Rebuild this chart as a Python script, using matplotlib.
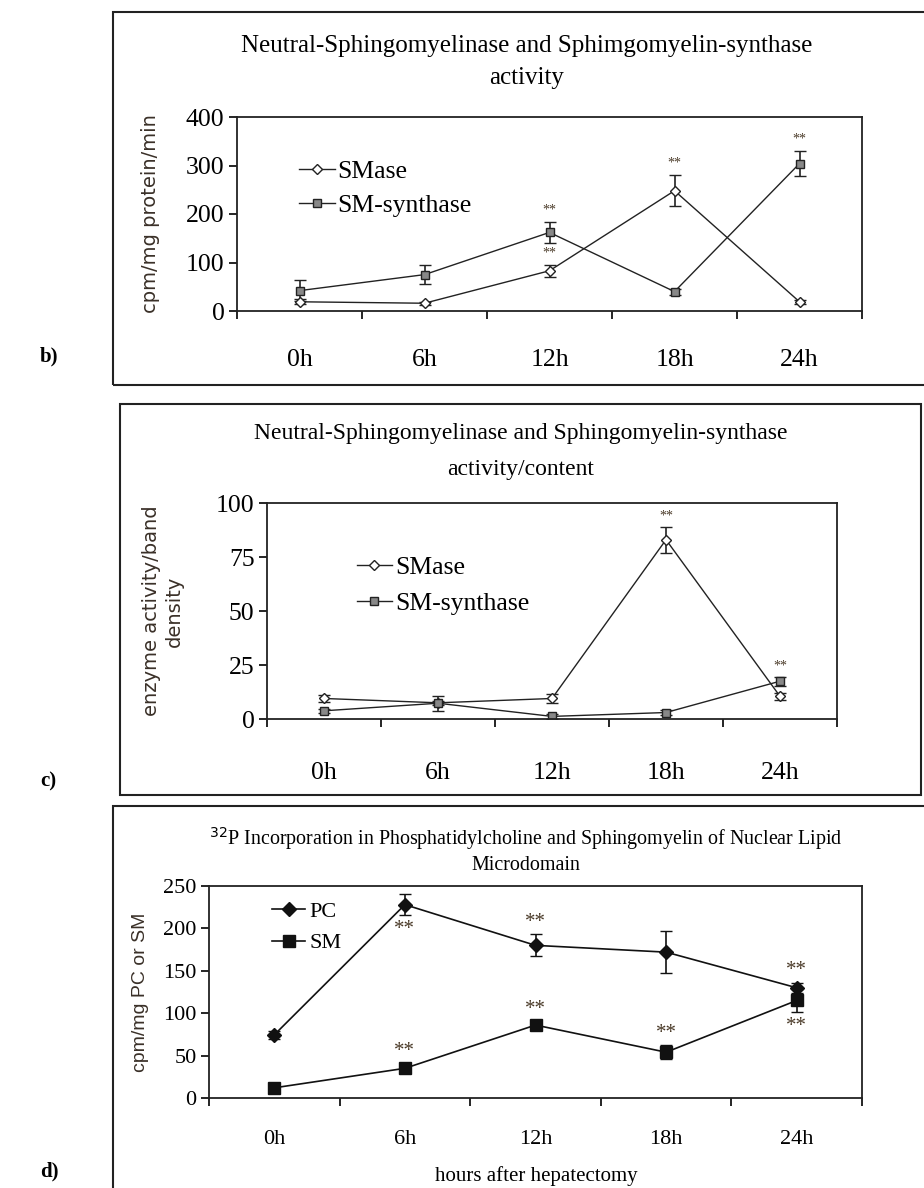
import matplotlib
matplotlib.use("Agg")
import matplotlib.pyplot as plt
from matplotlib.patches import Rectangle
from matplotlib.lines import Line2D
import numpy as np

W, H = 924, 1188
hours = ["0h", "6h", "12h", "18h", "24h"]

# panel b - activity
smase_b = [19, 16, 83, 248, 19]
smase_b_err = [5, 3, 12, 32, 4]
synth_b = [42, 75, 162, 40, 304]
synth_b_err = [22, 20, 22, 6, 25]
stars_b = [("synth", 2), ("smase", 2), ("smase", 3), ("synth", 4)]

# panel c - activity/content
smase_c = [9.5, 7.5, 9.5, 83, 10.5]
smase_c_err = [1.5, 1.0, 2.0, 6.0, 1.5]
synth_c = [3.8, 7.3, 1.2, 3.0, 17.5]
synth_c_err = [1.0, 3.5, 1.0, 1.0, 2.0]
stars_c = [("smase", 3), ("synth", 4)]

# panel d - 32P incorporation
pc_d = [74.5, 228, 180, 172, 130]
pc_d_err = [5, 12, 13, 25, 6]
sm_d = [12, 35, 86, 54, 115]
sm_d_err = [2, 5, 4, 8, 13]
stars_d = [("pc", 1, "below"), ("pc", 2, "above"), ("pc", 4, "above"),
           ("sm", 1, "above"), ("sm", 2, "above"), ("sm", 3, "above"), ("sm", 4, "below")]

serif = "Liberation Serif"
star_col = "#4a3a28"


def rect(l, t, r, b):
    return [l / W, 1 - b / H, (r - l) / W, (b - t) / H]


fig = plt.figure(figsize=(W / 100, H / 100), dpi=100)

# outer frames
for (l, t, r, b) in [(113, 12, 940, 385), (120, 404, 921, 795), (113, 806, 940, 1200)]:
    fig.add_artist(Rectangle((l / W, 1 - b / H), (r - l) / W, (b - t) / H,
                             transform=fig.transFigure, fill=False, lw=1.5, ec="#222"))

for lab, y in [("b)", 356), ("c)", 781), ("d)", 1171)]:
    fig.text(40 / W, 1 - y / H, lab, fontfamily=serif, fontsize=15, fontweight="bold",
             ha="left", va="center")


def style_axes(ax, ylim, yticks, fs, pad):
    x = np.arange(len(hours))
    ax.set_xlim(-0.5, len(hours) - 0.5)
    ax.set_ylim(*ylim)
    ax.set_yticks(yticks)
    ax.set_xticks(np.arange(len(hours) + 1) - 0.5)
    ax.set_xticklabels([])
    ax.set_xticks(x, minor=True)
    ax.set_xticklabels(hours, minor=True, fontfamily=serif, fontsize=fs)
    ax.tick_params(axis="x", which="major", direction="out", length=6, width=1.2)
    ax.tick_params(axis="x", which="minor", length=0, pad=pad)
    ax.tick_params(axis="y", direction="out", length=6, width=1.2, pad=3)
    for t in ax.get_yticklabels():
        t.set_fontfamily(serif)
        t.set_fontsize(fs)
    for s in ax.spines.values():
        s.set_linewidth(1.3)
        s.set_color("#222")
    return x


def proxies(specs):
    return [Line2D([], [], color=c, lw=lw, marker=m, ms=ms, mfc=fc, mec=c)
            for c, lw, m, ms, fc in specs]


# ---------- panel b ----------
axb = fig.add_axes(rect(237, 117, 862, 311))
x = style_axes(axb, (0, 400), [0, 100, 200, 300, 400], 18.5, 27)
axb.errorbar(x, smase_b, yerr=smase_b_err, color="#222", lw=1, marker="D", ms=5,
             mfc="white", mec="#222", capsize=4, elinewidth=1.2)
axb.errorbar(x, synth_b, yerr=synth_b_err, color="#222", lw=1, marker="s", ms=6,
             mfc="#888", mec="#222", capsize=4, elinewidth=1.2)
for ser, i in stars_b:
    v, e = (smase_b, smase_b_err) if ser == "smase" else (synth_b, synth_b_err)
    axb.annotate("**", (x[i], v[i] + e[i]), xytext=(0, 4), textcoords="offset points",
                 ha="center", va="bottom", fontsize=10, color=star_col, fontfamily=serif)
axb.set_ylabel("cpm/mg protein/min", fontfamily="DejaVu Sans", fontsize=14,
               color="#3a3028")
axb.yaxis.set_label_coords(-0.124, 0.5)
axb.legend(proxies([("#222", 1, "D", 5, "white"), ("#222", 1, "s", 6, "#888")]),
           ["SMase", "SM-synthase"], loc="upper left", bbox_to_anchor=(0.083, 0.83),
           frameon=False, prop={"family": serif, "size": 18.5}, handlelength=1.4,
           handletextpad=0.1, labelspacing=0.4, borderaxespad=0)
fig.text(527 / W, 1 - 46 / H, "Neutral-Sphingomyelinase and Sphimgomyelin-synthase",
         fontfamily=serif, fontsize=18, ha="center", va="center")
fig.text(527 / W, 1 - 78 / H, "activity", fontfamily=serif, fontsize=18,
         ha="center", va="center")

# ---------- panel c ----------
axc = fig.add_axes(rect(267, 503, 837, 719))
x = style_axes(axc, (0, 100), [0, 25, 50, 75, 100], 18.5, 31)
axc.errorbar(x, smase_c, yerr=smase_c_err, color="#222", lw=1, marker="D", ms=5,
             mfc="white", mec="#222", capsize=4, elinewidth=1.2)
axc.errorbar(x, synth_c, yerr=synth_c_err, color="#222", lw=1, marker="s", ms=6,
             mfc="#888", mec="#222", capsize=4, elinewidth=1.2)
for ser, i in stars_c:
    v, e = (smase_c, smase_c_err) if ser == "smase" else (synth_c, synth_c_err)
    axc.annotate("**", (x[i], v[i] + e[i]), xytext=(0, 3), textcoords="offset points",
                 ha="center", va="bottom", fontsize=10, color=star_col, fontfamily=serif)
axc.set_ylabel("enzyme activity/band\ndensity", fontfamily="DejaVu Sans", fontsize=14,
               color="#3a3028", linespacing=1.3)
axc.yaxis.set_label_coords(-0.145, 0.5)
axc.legend(proxies([("#222", 1, "D", 5, "white"), ("#222", 1, "s", 6, "#888")]),
           ["SMase", "SM-synthase"], loc="upper left", bbox_to_anchor=(0.139, 0.8),
           frameon=False, prop={"family": serif, "size": 18.5}, handlelength=1.4,
           handletextpad=0.1, labelspacing=0.5, borderaxespad=0)
fig.text(521 / W, 1 - 434 / H, "Neutral-Sphingomyelinase and Sphingomyelin-synthase",
         fontfamily=serif, fontsize=17, ha="center", va="center")
fig.text(521 / W, 1 - 469 / H, "activity/content", fontfamily=serif, fontsize=17,
         ha="center", va="center")

# ---------- panel d ----------
axd = fig.add_axes(rect(209, 886, 862, 1098))
x = style_axes(axd, (0, 250), [0, 50, 100, 150, 200, 250], 16, 23)
axd.errorbar(x, pc_d, yerr=pc_d_err, color="#111", lw=1.2, marker="D", ms=7,
             mfc="#111", mec="#111", capsize=4, elinewidth=1.2)
axd.errorbar(x, sm_d, yerr=sm_d_err, color="#111", lw=1.2, marker="s", ms=9,
             mfc="#111", mec="#111", capsize=4, elinewidth=1.2)
for ser, i, side in stars_d:
    v, e = (pc_d, pc_d_err) if ser == "pc" else (sm_d, sm_d_err)
    if side == "above":
        axd.annotate("**", (x[i], v[i] + e[i]), xytext=(0, 2), textcoords="offset points",
                     ha="center", va="bottom", fontsize=15, color=star_col, fontfamily=serif)
    else:
        axd.annotate("**", (x[i], v[i] - e[i]), xytext=(0, -4), textcoords="offset points",
                     ha="center", va="top", fontsize=15, color=star_col, fontfamily=serif)
axd.set_ylabel("cpm/mg PC or SM", fontfamily="Liberation Sans", fontsize=14,
               color="#3a3028")
axd.yaxis.set_label_coords(-0.092, 0.5)
axd.legend(proxies([("#111", 1.2, "D", 7, "#111"), ("#111", 1.2, "s", 9, "#111")]),
           ["PC", "SM"], loc="upper left", bbox_to_anchor=(0.083, 0.97), frameon=False,
           prop={"family": serif, "size": 16}, handlelength=1.5, handletextpad=0.2,
           labelspacing=0.5, borderaxespad=0)
fig.text(526 / W, 1 - 839 / H,
         "$^{32}$P Incorporation in Phosphatidylcholine and Sphingomyelin of Nuclear Lipid",
         fontfamily=serif, fontsize=14.4, ha="center", va="center")
fig.text(526 / W, 1 - 866 / H, "Microdomain", fontfamily=serif, fontsize=14.4,
         ha="center", va="center")
fig.text(536 / W, 1 - 1176 / H, "hours after hepatectomy", fontfamily=serif, fontsize=15,
         ha="center", va="center")

fig.savefig("out.png", dpi=100)
